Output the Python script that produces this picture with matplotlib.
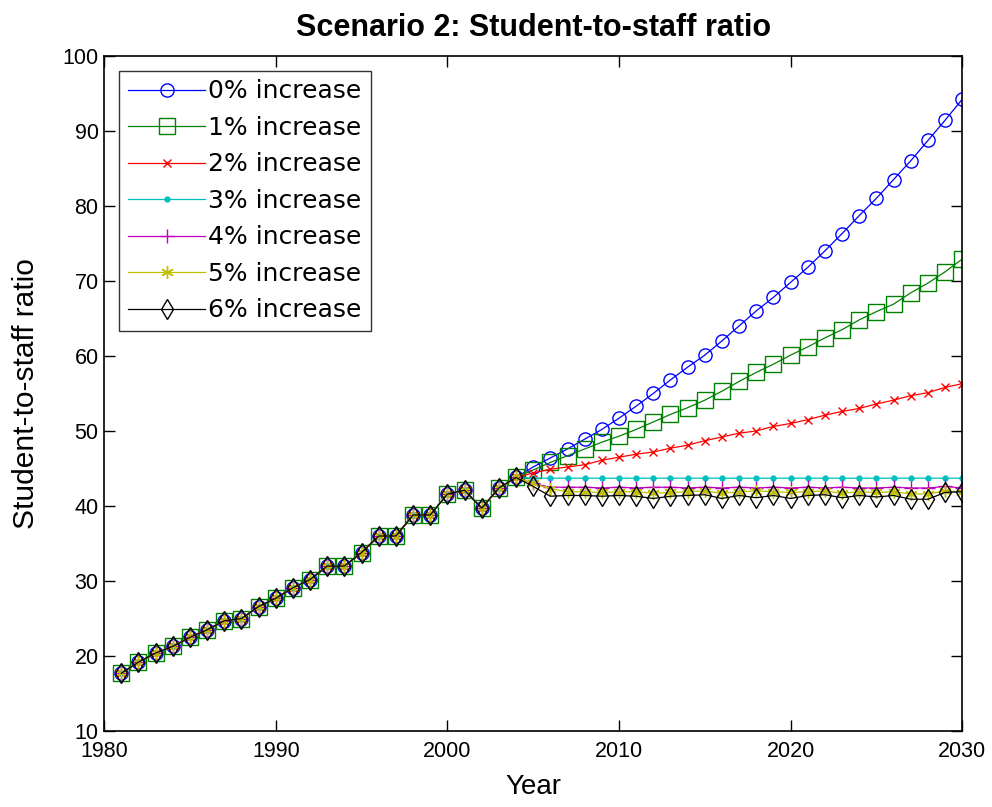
import matplotlib
matplotlib.use('Agg')
import matplotlib.pyplot as plt

# historical values 1981-2004 (same for every scenario)
hist_years = list(range(1981, 2005))
hist = [17.7, 19.2, 20.4, 21.3, 22.5, 23.5, 24.7, 25.0, 26.6, 27.7, 29.1, 30.2,
        32.0, 32.0, 33.8, 36.0, 36.0, 38.8, 38.8, 41.6, 42.1, 39.7, 42.4, 43.8]

# projections 2005-2030
proj_years = list(range(2005, 2031))
inc0 = [45.2, 46.4, 47.6, 48.9, 50.2, 51.7, 53.3, 55.0, 56.8, 58.5, 60.1, 62.0, 64.0,
        66.0, 67.8, 69.8, 71.8, 74.0, 76.3, 78.7, 81.0, 83.5, 86.0, 88.7, 91.4, 94.2]
inc1 = [44.8, 45.8, 46.7, 47.6, 48.5, 49.3, 50.2, 51.2, 52.2, 53.1, 54.1, 55.3, 56.6,
        57.8, 58.9, 60.1, 61.2, 62.4, 63.5, 64.8, 65.9, 66.9, 68.4, 69.7, 71.2, 72.9]
inc2 = [44.4, 44.9, 45.2, 45.5, 46.1, 46.5, 46.9, 47.2, 47.7, 48.1, 48.7, 49.2, 49.7,
        50.0, 50.6, 51.0, 51.5, 52.1, 52.6, 53.0, 53.6, 54.1, 54.7, 55.1, 55.8, 56.3]
inc3 = [43.7, 43.7, 43.7, 43.7, 43.7, 43.7, 43.7, 43.7, 43.7, 43.7, 43.7, 43.7, 43.7,
        43.7, 43.7, 43.7, 43.7, 43.7, 43.7, 43.7, 43.7, 43.7, 43.7, 43.7, 43.7, 43.7]
inc4 = [43.0, 42.5, 42.5, 42.5, 42.4, 42.5, 42.4, 42.5, 42.5, 42.4, 42.5, 42.4, 42.5,
        42.4, 42.5, 42.4, 42.5, 42.4, 42.5, 42.4, 42.4, 42.5, 42.4, 42.4, 42.6, 42.4]
inc5 = [43.0, 42.3, 41.9, 41.9, 41.8, 41.9, 41.9, 41.7, 41.8, 41.9, 42.0, 41.7, 41.9,
        42.0, 41.9, 41.8, 41.9, 42.0, 41.7, 41.9, 41.8, 41.9, 41.6, 41.6, 42.0, 41.9]
inc6 = [42.6, 41.3, 41.4, 41.4, 41.3, 41.4, 41.3, 41.0, 41.3, 41.4, 41.5, 41.0, 41.4,
        41.1, 41.4, 41.0, 41.4, 41.5, 41.1, 41.4, 41.2, 41.4, 40.9, 40.9, 41.8, 41.9]

labels = ['0% increase', '1% increase', '2% increase', '3% increase',
          '4% increase', '5% increase', '6% increase']
series = [inc0, inc1, inc2, inc3, inc4, inc5, inc6]

colors = ['#0000ff', '#008000', '#ff0000', '#00bfbf', '#bf00bf', '#bfbf00', '#000000']
markers = ['o', 's', 'x', '.', '+', (6, 2, 0), 'd']
msizes = [9.5, 11.5, 6, 7, 10, 9, 10]
hollow = [True, True, False, False, False, False, True]

fig = plt.figure(figsize=(9.92, 8.07), dpi=100)
ax = fig.add_axes([0.105, 0.094, 0.865, 0.837])

years = hist_years + proj_years
for vals, lab, c, m, ms, h in zip(series, labels, colors, markers, msizes, hollow):
    ax.plot(years, hist + vals, color=c, marker=m, markersize=ms, lw=0.9,
            markerfacecolor='none' if h else c, markeredgecolor=c,
            markeredgewidth=1.0, label=lab)

ax.set_xlim(1980, 2030)
ax.set_ylim(10, 100)
ax.set_xticks(range(1980, 2031, 10))
ax.set_yticks(range(10, 101, 10))

tick_font = ['Liberation Sans', 'DejaVu Sans']
for lbl in ax.get_xticklabels() + ax.get_yticklabels():
    lbl.set_family(tick_font)
    lbl.set_fontsize(15.5)
ax.tick_params(direction='in', length=8, width=1.0, top=True, right=True, pad=4)
ax.tick_params(axis='x', pad=7)
for s in ax.spines.values():
    s.set_linewidth(1.2)

ax.set_xlabel('Year', fontsize=20, family=tick_font, labelpad=9)
ax.set_ylabel('Student-to-staff ratio', fontsize=21.5, family=tick_font, labelpad=16)
ax.set_title('Scenario 2: Student-to-staff ratio', fontsize=22, fontweight='bold',
             family=tick_font, pad=14)

leg = ax.legend(loc='upper left', prop={'family': 'DejaVu Sans', 'size': 18},
                handlelength=3.1, handletextpad=0.12, labelspacing=0.5,
                borderaxespad=0.6, borderpad=0.35, fancybox=False, frameon=True)
leg.get_frame().set_edgecolor('black')
leg.get_frame().set_linewidth(1.0)

fig.savefig('out.png', dpi=100)
